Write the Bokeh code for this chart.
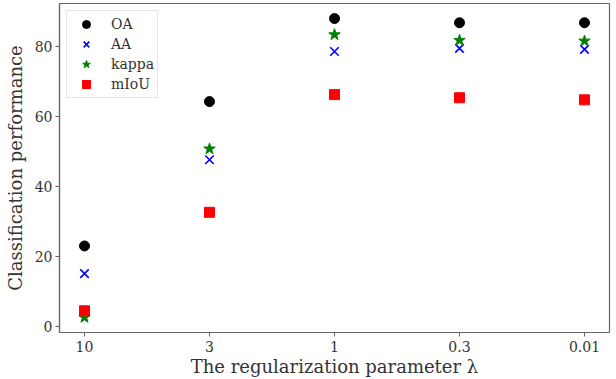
from bokeh.plotting import figure
from bokeh.models import FixedTicker, Range1d, Legend, LegendItem, ColumnDataSource
from bokeh.embed import file_html
from bokeh.resources import INLINE

lambdas = ["10", "3", "1", "0.3", "0.01"]
oa = [23.0, 64.2, 87.9, 86.7, 86.7]
aa = [15.1, 47.6, 78.5, 79.4, 79.1]
kappa = [2.6, 50.7, 83.3, 81.7, 81.5]
miou = [4.5, 32.6, 66.2, 65.3, 64.7]

xpos = list(range(len(lambdas)))
src = ColumnDataSource(dict(x=xpos, oa=oa, aa=aa, kappa=kappa, miou=miou))

FONT = "DejaVu Serif"
TXT = "#333333"
AX = "#666666"

p = figure(width=616, height=379, output_backend="svg", toolbar_location=None,
           x_range=Range1d(-0.2, 4.2), y_range=Range1d(-1.7, 92.2),
           min_border_left=59, min_border_right=7, min_border_top=3, min_border_bottom=47)
p.grid.visible = False
p.outline_line_color = AX
p.outline_line_width = 1.2

r_oa = p.scatter("x", "oa", source=src, marker="circle", size=10, color="black")
r_aa = p.scatter("x", "aa", source=src, marker="x", size=12, line_color="blue", line_width=1.6)
r_k = p.scatter("x", "kappa", source=src, marker="star", size=12, color="green")
r_m = p.scatter("x", "miou", source=src, marker="square", size=10, color="red")

p.xaxis.ticker = FixedTicker(ticks=xpos)
p.xaxis.major_label_overrides = {i: l for i, l in zip(xpos, lambdas)}
p.yaxis.ticker = FixedTicker(ticks=[0, 20, 40, 60, 80])

for ax in (p.xaxis[0], p.yaxis[0]):
    ax.axis_line_color = AX
    ax.axis_line_width = 1.2
    ax.major_tick_line_color = AX
    ax.major_tick_out = 4
    ax.major_tick_in = 0
    ax.minor_tick_line_color = None
    ax.major_label_text_font = FONT
    ax.major_label_text_font_size = "14px"
    ax.major_label_text_color = TXT
    ax.axis_label_text_font = FONT
    ax.axis_label_text_font_size = "18px"
    ax.axis_label_text_font_style = "normal"
    ax.axis_label_text_color = TXT

p.xaxis.major_label_standoff = 4
p.yaxis.major_label_standoff = 3
p.xaxis.axis_label = "The regularization parameter λ"
p.yaxis.axis_label = "Classification performance"
p.xaxis.axis_label_standoff = 1
p.yaxis.axis_label_standoff = 6

legend = Legend(items=[
    LegendItem(label="OA", renderers=[r_oa]),
    LegendItem(label="AA", renderers=[r_aa]),
    LegendItem(label="kappa", renderers=[r_k]),
    LegendItem(label="mIoU", renderers=[r_m]),
], location="top_left")
legend.label_text_font = FONT
legend.label_text_font_size = "14px"
legend.label_text_color = TXT
legend.border_line_color = "#cccccc"
legend.border_line_width = 1
legend.background_fill_alpha = 0.9
legend.glyph_height = 20
legend.glyph_width = 32
legend.label_height = 20
legend.spacing = 0
legend.padding = 3
legend.label_standoff = 9
legend.margin = 7
p.add_layout(legend, "center")

open("out.html", "w").write(file_html(p, INLINE))
